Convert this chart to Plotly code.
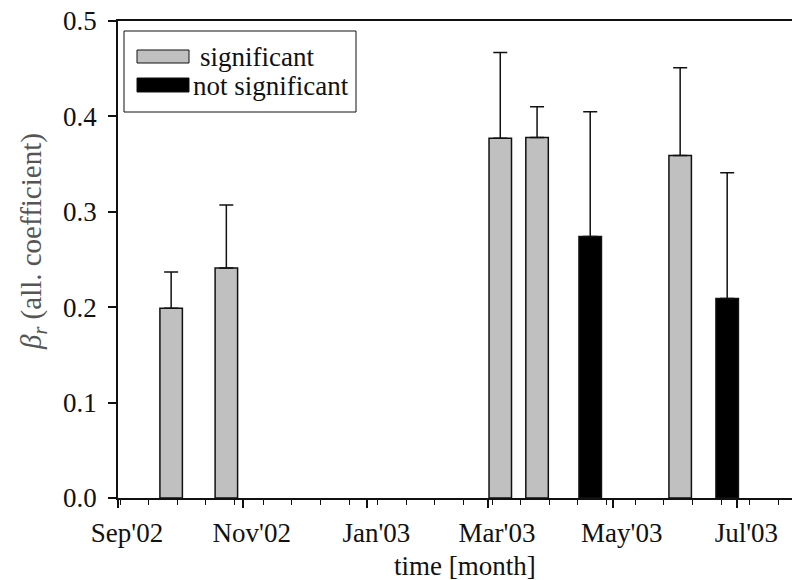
import plotly.graph_objects as go

# ---- data ----
dates = ["2002-09-27", "2002-10-24", "2003-03-07", "2003-03-25",
         "2003-04-20", "2003-06-03", "2003-06-26"]
values = [0.199, 0.241, 0.377, 0.378, 0.274, 0.359, 0.209]
upper = [0.237, 0.307, 0.467, 0.410, 0.405, 0.451, 0.341]
significant = [True, True, True, True, False, True, False]

DAY = 86400000
FONT = "Liberation Serif, Times New Roman, Times, DejaVu Serif, serif"
FS = 27

# plot geometry (px)
W, H = 792, 580
L, R, T, B = 118, 0, 21, 82
PW, PH = W - L - R, H - T - B


def px2x(px):
    return (px - L) / PW


def px2y(py):
    return (H - B - py) / PH


fig = go.Figure()

for flag, name, color in [(True, "significant", "#c0c0c0"), (False, "not significant", "#000000")]:
    xs = [d for d, s in zip(dates, significant) if s == flag]
    ys = [v for v, s in zip(values, significant) if s == flag]
    es = [u - v for u, v, s in zip(upper, values, significant) if s == flag]
    fig.add_trace(go.Bar(
        x=xs, y=ys, name=name, width=[11 * DAY] * len(xs),
        marker=dict(color=color, line=dict(color="#111111", width=1.5)),
        error_y=dict(type="data", symmetric=False, array=es, arrayminus=[0] * len(es),
                     color="#111111", thickness=1.5, width=7),
        showlegend=False,
    ))

fig.update_layout(
    width=W, height=H,
    margin=dict(l=L, r=R, t=T, b=B),
    paper_bgcolor="white", plot_bgcolor="white",
    barmode="overlay",
    font=dict(family=FONT, size=FS, color="#111111"),
)

fig.update_xaxes(
    type="date",
    range=["2002-09-01", "2003-07-27 17:00"],
    tick0="2002-09-01", dtick="M2", tickformat="%b'%y",
    ticks="outside", ticklen=8, tickwidth=1.5, tickcolor="#111111",
    minor=dict(ticks="outside", ticklen=5, tickwidth=1.2, tickcolor="#111111",
               dtick=14 * DAY, tick0="2002-09-02", showgrid=False),
    showline=True, linewidth=1.5, linecolor="#111111", mirror=True,
    showgrid=False, zeroline=False, ticklabelshift=9, ticklabelstandoff=2,
    tickfont=dict(family=FONT, size=FS, color="#111111"),
)
fig.update_yaxes(
    range=[0, 0.5], dtick=0.1, tick0=0, tickformat=".1f",
    ticks="outside", ticklen=8, tickwidth=1.5, tickcolor="#111111",
    showline=True, linewidth=1.5, linecolor="#111111", mirror=False,
    showgrid=False, zeroline=False, ticklabelstandoff=6,
    tickfont=dict(family=FONT, size=FS, color="#111111"),
)

# axis titles
fig.add_annotation(text="time [month]", xref="paper", yref="paper",
                   x=px2x(465), y=px2y(566), xanchor="center", yanchor="middle",
                   showarrow=False, font=dict(family=FONT, size=FS, color="#111111"))
fig.add_annotation(text="<i>β</i><sub><i>r</i></sub> (all. coefficient)", xref="paper", yref="paper",
                   x=px2x(33), y=px2y(242), xanchor="center", yanchor="middle", textangle=-90,
                   showarrow=False, font=dict(family=FONT, size=29, color="#555555"))

# legend (drawn manually)
fig.add_shape(type="rect", xref="paper", yref="paper",
              x0=px2x(124), x1=px2x(356), y0=px2y(112), y1=px2y(31),
              line=dict(color="#111111", width=1), fillcolor="white")
legend_items = [("significant", "#c0c0c0", 50, 63, 198), ("not significant", "#000000", 78, 92, 191)]
for label, color, y0, y1, tx in legend_items:
    fig.add_shape(type="rect", xref="paper", yref="paper",
                  x0=px2x(137), x1=px2x(189), y0=px2y(y1), y1=px2y(y0),
                  line=dict(color="#111111", width=1), fillcolor=color)
    fig.add_annotation(text=label, xref="paper", yref="paper",
                       x=px2x(tx), y=px2y((y0 + y1) / 2 + 1), xanchor="left", yanchor="middle",
                       showarrow=False, font=dict(family=FONT, size=FS, color="#111111"))

fig.write_html("out.html")
